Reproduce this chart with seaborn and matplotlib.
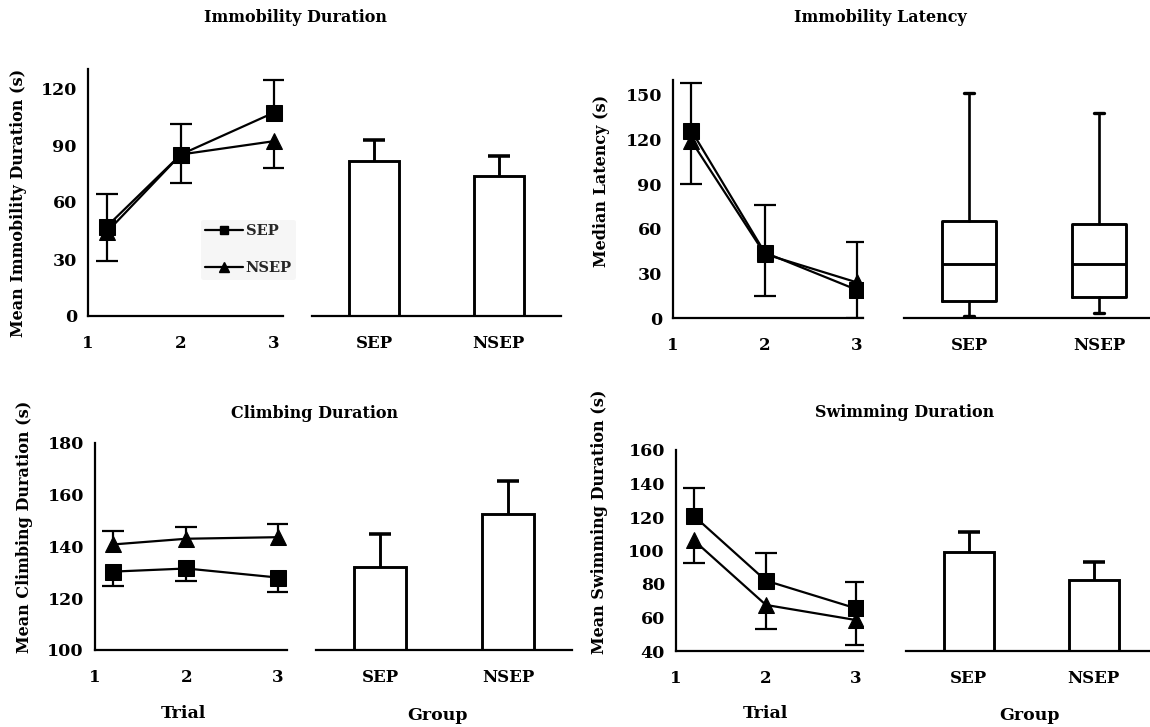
import numpy as np
import pandas as pd
import matplotlib
matplotlib.use("Agg")
import matplotlib.pyplot as plt
from matplotlib.lines import Line2D
import seaborn as sns

# ---------------- data ----------------
trial_labels = [1, 2, 3]
trial_x = [1.2, 2, 3]
groups = ["SEP", "NSEP"]

# Immobility duration
imm_sep = [47, 85, 107]
imm_sep_err = [17, 16, 17]
imm_nsep = [44, 85, 92]
imm_nsep_err = [15, 15, 14]
imm_group = [81.5, 73.5]
imm_group_err = [11, 10.5]

# Immobility latency (medians)
lat_sep = [126, 44, 19]
lat_sep_err = [32, 32, 32]
lat_nsep = [119, 43, 24]
lat_nsep_err = [29, 28, 24]
lat_box_whislo = [1.3, 3.5]
lat_box_q1 = [11.5, 14]
lat_box_med = [36.5, 36.5]
lat_box_q3 = [65, 63]
lat_box_whishi = [151, 138]

# Climbing duration
climb_sep = [130.3, 131.5, 128]
climb_sep_err = [5.5, 5, 5.5]
climb_nsep = [140.8, 143, 143.6]
climb_nsep_err = [5, 4.5, 5]
climb_group = [132, 152.5]
climb_group_err = [13, 13]

# Swimming duration
swim_sep = [120.6, 82, 65.5]
swim_sep_err = [16.5, 16.5, 15.5]
swim_nsep = [106, 67.5, 58.5]
swim_nsep_err = [13.5, 14.5, 15]
swim_group = [99, 82.5]
swim_group_err = [12, 10.5]

# ---------------- style ----------------
sns.set_theme(style="white")
plt.rcParams["font.family"] = ["DejaVu Serif"]
plt.rcParams["font.weight"] = "bold"
plt.rcParams["axes.labelweight"] = "bold"

W, H = 1150, 727
fig = plt.figure(figsize=(W / 100, H / 100), dpi=100)
fig.patch.set_facecolor("white")

LW = 1.6
YTICK_FS = 12.5
XTICK_FS = 12
YLAB_FS = 11.5
XLAB_FS = 12.5
TITLE_FS = 11.5
CAP = 8


def px_axes(left, right, top, bottom):
    return fig.add_axes([left / W, 1 - bottom / H, (right - left) / W, (bottom - top) / H])


def style_line_axes(ax, ylim, yticks, xmax):
    ax.set_xlim(1, xmax)
    ax.set_ylim(*ylim)
    ax.set_yticks(yticks)
    ax.set_xticks(trial_labels)
    ax.set_xticklabels([str(t) for t in trial_labels])
    for s in ["top", "right"]:
        ax.spines[s].set_visible(False)
    for s in ["left", "bottom"]:
        ax.spines[s].set_linewidth(LW)
        ax.spines[s].set_color("black")
    ax.tick_params(axis="y", direction="inout", length=10, width=LW, pad=3,
                   labelsize=YTICK_FS, colors="black")
    ax.tick_params(axis="x", length=0, pad=14, labelsize=XTICK_FS, colors="black")
    ax.set_xlabel("")
    ax.set_ylabel("")
    ax.set_facecolor("white")


def style_group_axes(ax, ylim):
    ax.set_xlim(-0.5, 1.5)
    ax.set_ylim(*ylim)
    ax.set_yticks([])
    for s in ["top", "right", "left"]:
        ax.spines[s].set_visible(False)
    ax.spines["bottom"].set_linewidth(LW)
    ax.spines["bottom"].set_color("black")
    ax.tick_params(axis="x", length=0, pad=14, labelsize=XTICK_FS, colors="black")
    ax.set_xlabel("")
    ax.set_ylabel("")
    ax.patch.set_alpha(0)


def one_sided_errorbar(ax, x, y, err, up, lw, capthick, zorder):
    z = np.zeros(len(err))
    yerr = [z, err] if up else [err, z]
    cont = ax.errorbar(x, y, yerr=yerr, fmt="none", ecolor="black",
                       elinewidth=lw, capsize=CAP, capthick=capthick, zorder=zorder)
    caps = cont[1]
    if len(caps) == 2:
        # caps[0] = lower caps, caps[1] = upper caps; drop the zero-length side
        (caps[0] if up else caps[1]).remove()


def line_panel(ax, sep, sep_err, nsep, nsep_err, sep_up=True):
    df = pd.DataFrame({
        "trial": trial_x * 2,
        "value": list(sep) + list(nsep),
        "group": ["SEP"] * len(sep) + ["NSEP"] * len(nsep),
    })
    sns.lineplot(data=df, x="trial", y="value", style="group", hue="group",
                 palette={"SEP": "black", "NSEP": "black"},
                 markers={"SEP": "s", "NSEP": "^"}, dashes=False,
                 markersize=11, linewidth=LW, markeredgecolor="black",
                 legend=False, ax=ax, zorder=3)
    one_sided_errorbar(ax, trial_x, sep, sep_err, sep_up, LW, LW, 2)
    one_sided_errorbar(ax, trial_x, nsep, nsep_err, not sep_up, LW, LW, 2)


def bar_panel(ax, vals, errs):
    sns.barplot(x=groups, y=vals, color="white", edgecolor="black", linewidth=LW * 1.3,
                width=0.4, saturation=1, errorbar=None, ax=ax, zorder=2)
    xs = np.arange(len(groups))
    one_sided_errorbar(ax, xs, vals, errs, True, LW * 1.3, LW * 1.6, 3)


# ---------- Immobility duration ----------
ax1 = px_axes(88, 283, 69, 316)
line_panel(ax1, imm_sep, imm_sep_err, imm_nsep, imm_nsep_err, sep_up=True)
style_line_axes(ax1, (0, 130), [0, 30, 60, 90, 120], 3.1)
handles = [
    Line2D([], [], color="black", lw=LW, marker="s", markersize=6),
    Line2D([], [], color="black", lw=LW, marker="^", markersize=7),
]
leg = ax1.legend(handles, groups, loc="upper left", bbox_to_anchor=(0.54, 0.42),
                 frameon=True, labelspacing=1.6, handlelength=2.6,
                 handletextpad=0.2, borderpad=0.3, prop={"weight": "bold", "size": 10.5})
leg.get_frame().set_facecolor("#f6f6f6")
leg.get_frame().set_edgecolor("none")
leg.get_frame().set_alpha(1)
leg.set_zorder(1)

ax2 = px_axes(312, 561, 69, 316)
bar_panel(ax2, imm_group, imm_group_err)
style_group_axes(ax2, (0, 130))

# ---------- Immobility latency ----------
ax3 = px_axes(673, 863, 80, 318)
line_panel(ax3, lat_sep, lat_sep_err, lat_nsep, lat_nsep_err, sep_up=True)
style_line_axes(ax3, (0, 160), [0, 30, 60, 90, 120, 150], 3.07)

ax4 = px_axes(904, 1164, 80, 318)
stats = []
for i, g in enumerate(groups):
    stats.append({"label": g, "whislo": lat_box_whislo[i], "q1": lat_box_q1[i],
                  "med": lat_box_med[i], "q3": lat_box_q3[i],
                  "whishi": lat_box_whishi[i], "fliers": []})
ax4.bxp(stats, positions=np.arange(len(groups)), widths=0.41, showfliers=False,
        capwidths=0.07,
        boxprops=dict(color="black", linewidth=LW * 1.3),
        whiskerprops=dict(color="black", linewidth=LW * 1.2),
        capprops=dict(color="black", linewidth=LW * 1.5),
        medianprops=dict(color="black", linewidth=LW * 1.3))
ax4.set_xticks(np.arange(len(groups)))
ax4.set_xticklabels(groups)
style_group_axes(ax4, (0, 160))

# ---------- Climbing duration ----------
ax5 = px_axes(95, 287, 443, 650)
line_panel(ax5, climb_sep, climb_sep_err, climb_nsep, climb_nsep_err, sep_up=False)
style_line_axes(ax5, (100, 180), [100, 120, 140, 160, 180], 3.1)

ax6 = px_axes(316, 572, 443, 650)
bar_panel(ax6, climb_group, climb_group_err)
style_group_axes(ax6, (100, 180))

# ---------- Swimming duration ----------
ax7 = px_axes(676, 863, 450, 651)
line_panel(ax7, swim_sep, swim_sep_err, swim_nsep, swim_nsep_err, sep_up=True)
style_line_axes(ax7, (40, 160), [40, 60, 80, 100, 120, 140, 160], 3.08)

ax8 = px_axes(906, 1156, 450, 651)
bar_panel(ax8, swim_group, swim_group_err)
style_group_axes(ax8, (40, 160))

# ---------- texts ----------
def ftext(x, y, s, **kw):
    fig.text(x / W, 1 - y / H, s, ha="center", va="center", color="black",
             fontweight="bold", **kw)

ftext(295, 17, "Immobility Duration", fontsize=TITLE_FS)
ftext(880, 17, "Immobility Latency", fontsize=TITLE_FS)
ftext(315, 413, "Climbing Duration", fontsize=TITLE_FS)
ftext(905, 412, "Swimming Duration", fontsize=TITLE_FS)

ftext(19, 203, "Mean Immobility Duration (s)", fontsize=YLAB_FS, rotation=90)
ftext(602, 181, "Median Latency (s)", fontsize=YLAB_FS, rotation=90)
ftext(25, 527, "Mean Climbing Duration (s)", fontsize=YLAB_FS, rotation=90)
ftext(600, 522, "Mean Swimming Duration (s)", fontsize=YLAB_FS, rotation=90)

ftext(183, 713, "Trial", fontsize=XLAB_FS)
ftext(437, 716, "Group", fontsize=XLAB_FS)
ftext(765, 713, "Trial", fontsize=XLAB_FS)
ftext(1030, 716, "Group", fontsize=XLAB_FS)

fig.savefig("out.png", dpi=100, facecolor="white")
